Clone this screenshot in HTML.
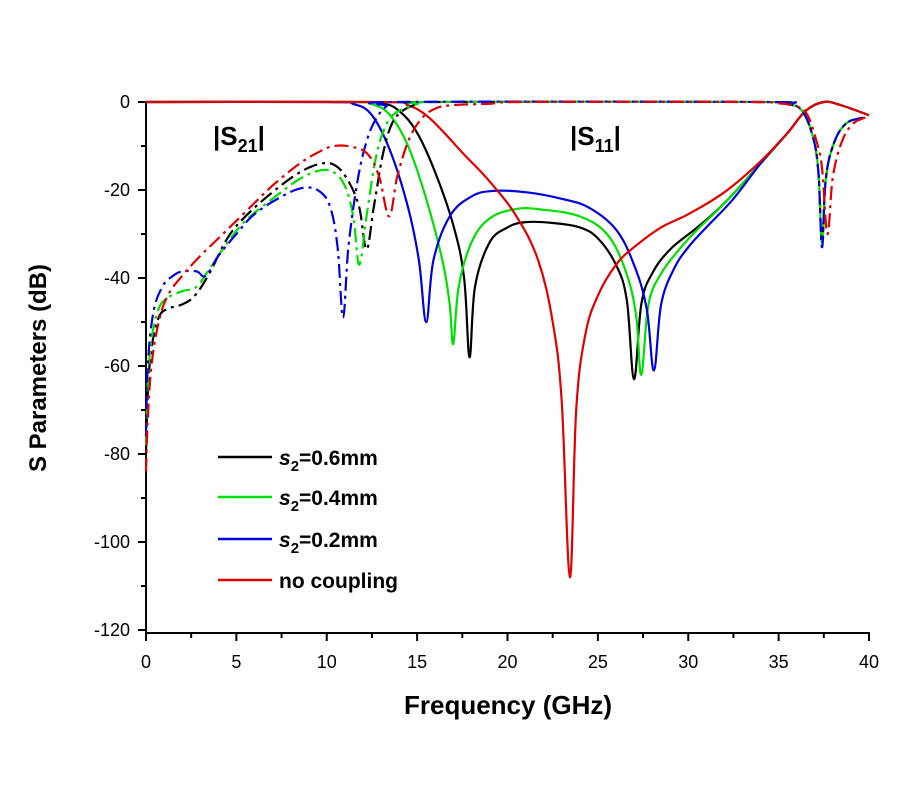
<!DOCTYPE html>
<html><head><meta charset="utf-8"><style>
html,body{margin:0;padding:0;background:#fff;width:900px;height:800px;overflow:hidden}
svg{font-family:"Liberation Sans",Arial,sans-serif}
</style></head><body>
<svg id="s" width="900" height="800" xmlns="http://www.w3.org/2000/svg">
<g id="ax" stroke="#000" stroke-width="2" fill="none"></g>
<g id="lab" font-size="18" fill="#000"></g>
<g id="curves" fill="none" stroke-width="2.2"></g>
<text x="213" y="145" font-size="26" font-weight="bold">|S<tspan font-size="18" dy="7">21</tspan><tspan dy="-7">|</tspan></text>
<text x="570" y="145" font-size="26" font-weight="bold">|S<tspan font-size="18" dy="7">11</tspan><tspan dy="-7">|</tspan></text>
<g stroke-width="2.5">
<line x1="218" y1="457" x2="272" y2="457" stroke="#000"/>
<line x1="218" y1="497" x2="272" y2="497" stroke="#00e000"/>
<line x1="218" y1="539" x2="272" y2="539" stroke="#0000e0"/>
<line x1="218" y1="580" x2="272" y2="580" stroke="#e00000"/>
</g>
<g font-size="21" font-weight="bold">
<text x="279" y="465"><tspan font-style="italic">s</tspan><tspan font-size="15" dy="6">2</tspan><tspan dy="-6">=0.6mm</tspan></text>
<text x="279" y="505"><tspan font-style="italic">s</tspan><tspan font-size="15" dy="6">2</tspan><tspan dy="-6">=0.4mm</tspan></text>
<text x="279" y="547"><tspan font-style="italic">s</tspan><tspan font-size="15" dy="6">2</tspan><tspan dy="-6">=0.2mm</tspan></text>
<text x="279" y="588">no coupling</text>
</g>
<text x="508" y="714" font-size="26" font-weight="bold" text-anchor="middle">Frequency (GHz)</text>
<text transform="translate(46,368) rotate(-90)" font-size="24" font-weight="bold" text-anchor="middle">S Parameters (dB)</text>
</svg>
<script>
var NS="http://www.w3.org/2000/svg";
var X0=146,XS=18.075,Y0=102,YS=4.4;
function px(f){return X0+f*XS} function py(d){return Y0-d*YS}
function el(p,t,a,txt){var e=document.createElementNS(NS,t);for(var k in a)e.setAttribute(k,a[k]);if(txt!=null)e.textContent=txt;p.appendChild(e);return e}
var ax=document.getElementById('ax'),lab=document.getElementById('lab');
el(ax,'line',{x1:146,y1:101,x2:146,y2:634});
el(ax,'line',{x1:145,y1:633,x2:870,y2:633});
for(var d=0;d>=-120;d-=10){var y=py(d);el(ax,'line',{x1:d%20==0?138:141,y1:y,x2:146,y2:y});
 if(d%20==0)el(lab,'text',{x:130,y:y+6,'text-anchor':'end'},String(d));}
for(var f=0;f<=40;f+=2.5){var x=px(f);el(ax,'line',{x1:x,y1:633,x2:x,y2:f%5==0?641:638});
 if(f%5==0)el(lab,'text',{x:x,y:668,'text-anchor':'middle'},String(f));}
function path(pts){var P=pts.map(function(p){return[px(p[0]),py(p[1])]});
 var s='M'+P[0][0].toFixed(1)+','+P[0][1].toFixed(1);
 for(var i=0;i<P.length-1;i++){var p0=P[i-1]||P[i],p1=P[i],p2=P[i+1],p3=P[i+2]||p2;var t=0.18;
  s+=' C'+(p1[0]+(p2[0]-p0[0])*t).toFixed(1)+','+(p1[1]+(p2[1]-p0[1])*t).toFixed(1)+' '+(p2[0]-(p3[0]-p1[0])*t).toFixed(1)+','+(p2[1]-(p3[1]-p1[1])*t).toFixed(1)+' '+p2[0].toFixed(1)+','+p2[1].toFixed(1);}
 return s;}
var C=document.getElementById('curves');
function draw(col,pts,dash){var a={d:path(pts),stroke:col};if(dash)a['stroke-dasharray']='14,5,3,5';el(C,'path',a);}
var K='#000',G='#00e000',B='#0000e0',R='#e00000';
draw(K,[[0,0],[11,0],[13,-0.3],[14,-2],[15,-7],[16,-16],[17,-28],[17.6,-40],[17.9,-58],[18.2,-42],[19,-32],[20,-28.5],[21,-27.3],[22.5,-27.5],[24,-28.5],[25,-31],[26,-37],[26.6,-45],[27,-63],[27.4,-46],[28,-39],[29,-33.5],[30.5,-28.5],[32,-23],[34,-14],[35.5,-7],[36.5,-2],[37.5,0],[38.5,-0.8],[40,-3]]);
draw(G,[[0,0],[11,0],[12.5,-0.5],[13.5,-3],[14.5,-10],[15.5,-22],[16.4,-36],[16.8,-46],[17.0,-55],[17.3,-42],[18,-32],[19,-26.5],[20.5,-24.3],[22,-24.5],[24,-26],[25.5,-30],[26.5,-38],[27.1,-48],[27.4,-62],[27.8,-46],[28.5,-39],[29.5,-33.5],[30.5,-29],[32,-23],[34,-14],[35.5,-7],[36.5,-2],[37.5,0],[38.5,-0.8],[40,-3]]);
draw(B,[[0,0],[10,0],[11.5,-0.5],[12.5,-3],[13.5,-11],[14.5,-24],[15.1,-36],[15.5,-50],[15.9,-36],[16.8,-26],[18,-21.5],[19.2,-20.2],[21,-20.5],[23,-22],[24.5,-24],[26,-29],[27,-37],[27.7,-47],[28.1,-61],[28.5,-46],[29.2,-38],[30,-33],[31,-28.5],[32.5,-22],[34,-14],[35.5,-7],[36.5,-2],[37.5,0],[38.5,-0.8],[40,-3]]);
draw(R,[[0,0],[13,0],[14.5,-0.8],[15.5,-3],[16.5,-7],[17.5,-11.5],[19,-18],[20.5,-26],[21.7,-36],[22.5,-50],[23.0,-68],[23.45,-108],[23.8,-70],[24.3,-53],[25,-44],[26,-37],[27,-33],[28.5,-28.5],[30,-25.5],[32,-20.5],[34,-13.5],[35.5,-7],[36.5,-2],[37.5,0],[38.5,-0.8],[40,-3]]);
draw(K,[[0,-80],[0.1,-66],[0.3,-56],[0.7,-49],[1.2,-47],[2,-46],[2.7,-44],[3.5,-39],[4.5,-31],[5.5,-26],[7,-20.5],[8.5,-16],[9.7,-14],[10.5,-14.5],[11.2,-18],[11.8,-24],[12.2,-33.5],[12.6,-24],[13.1,-12],[13.6,-5],[14.2,-2],[15,-0.5],[16,0],[34,0],[35.5,-0.5],[36.3,-2],[36.9,-8],[37.2,-16],[37.4,-32],[37.6,-18],[38,-10],[38.7,-5],[39.7,-3.5]],1);
draw(G,[[0,-78],[0.1,-64],[0.3,-54],[0.7,-47],[1.2,-44.5],[2,-43],[2.8,-42],[3.5,-38],[4.5,-32],[5.5,-27],[7,-22],[8.5,-17.5],[9.7,-15.5],[10.5,-16.3],[11.1,-20],[11.5,-27],[11.8,-37],[12.2,-26],[12.7,-13],[13.2,-6],[13.8,-2.5],[15,-0.5],[16,0],[34,0],[35.5,-0.5],[36.3,-2],[36.9,-8],[37.2,-16],[37.4,-32],[37.6,-18],[38,-10],[38.7,-5],[39.7,-3.5]],1);
draw(B,[[0,-76],[0.1,-60],[0.4,-48],[0.9,-42],[1.5,-39.5],[2,-38.5],[2.8,-38.5],[3.3,-39.5],[4,-35],[5,-30],[6,-25.5],[7.5,-21.5],[8.7,-19.5],[9.6,-20.3],[10.2,-24],[10.6,-33],[10.9,-49],[11.2,-33],[11.7,-18],[12.2,-9],[12.7,-4],[13.3,-1],[14,0],[34,0],[35.5,-0.5],[36.3,-2],[36.9,-8],[37.2,-16],[37.4,-33],[37.6,-18],[38,-10],[38.7,-5],[39.7,-3.5]],1);
draw(R,[[0,-84],[0.1,-72],[0.3,-60],[0.7,-50],[1.2,-44],[2,-39.5],[3,-35],[4,-31],[5.5,-25],[7,-19],[8.5,-14],[9.5,-11.5],[10.4,-10],[11.5,-10.3],[12.3,-12],[12.9,-17],[13.45,-26],[13.9,-17],[14.5,-9],[15.2,-4],[16,-1.5],[17,-0.7],[19,-0.4],[21,0],[33,0],[35,-0.3],[36,-1],[36.6,-3],[37.1,-9],[37.4,-15],[37.7,-30],[38,-17],[38.5,-9],[39.1,-5],[39.8,-3.5]],1);
</script>
</body></html>
